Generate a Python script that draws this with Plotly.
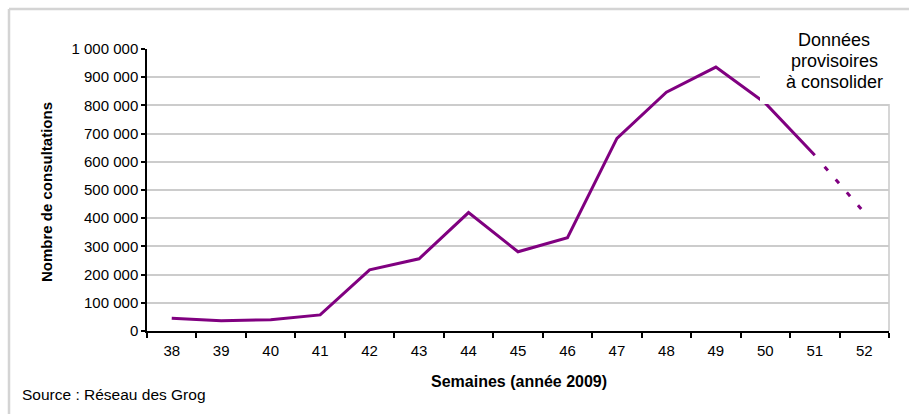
import plotly.graph_objects as go

# Weekly GP consultations for influenza-like illness, autumn 2009
semaines = ["38", "39", "40", "41", "42", "43", "44", "45", "46", "47", "48", "49", "50", "51", "52"]
consultations = [45000, 36000, 40000, 57000, 217000, 256000, 420000, 281000, 331000,
                 683000, 847000, 936000, 808000, 623000, 420000]
# last week is provisional: drawn dotted from week 51
n_consolide = 14

y_ticks = [0, 100000, 200000, 300000, 400000, 500000, 600000, 700000, 800000, 900000, 1000000]
y_tick_labels = ["0", "100 000", "200 000", "300 000", "400 000", "500 000",
                 "600 000", "700 000", "800 000", "900 000", "1 000 000"]

note_lines = ["Données", "provisoires", "à consolider"]

VIOLET = "#800080"
FONT = "Liberation Sans, Arial, sans-serif"

fig = go.Figure()
fig.add_trace(go.Scatter(
    x=semaines[:n_consolide], y=consultations[:n_consolide],
    mode="lines", line=dict(color=VIOLET, width=3), hoverinfo="skip", showlegend=False,
))
# four short dashes, starting after a gap at week 51
fig.add_trace(go.Scatter(
    x=semaines[n_consolide - 1:], y=consultations[n_consolide - 1:],
    mode="lines",
    line=dict(color=VIOLET, width=3, dash="0px,15px,5px,12px,5px,12px,5px,12px,5px,60px"),
    hoverinfo="skip", showlegend=False,
))

# plot area occupies x 147..889 px, y 49..331 px of a 909x414 page
L, R, T, B = 147, 889, 49, 331
W, H = R - L, B - T


def px(x):
    return (x - L) / W


def py(y):
    return (B - y) / H


shapes = [
    # outer chart frame (only top/left edges fall inside the page)
    dict(type="line", xref="paper", yref="paper", x0=px(9), x1=px(930), y0=py(9), y1=py(9),
         line=dict(color="#d4d4d4", width=2.5), layer="above"),
    dict(type="line", xref="paper", yref="paper", x0=px(9), x1=px(9), y0=py(9), y1=py(430),
         line=dict(color="#d4d4d4", width=2.5), layer="above"),
    # right edge of the plot area
    dict(type="line", xref="paper", yref="paper", x0=1, x1=1, y0=0, y1=1,
         line=dict(color="#c8c8c8", width=1.5), layer="below"),
    # white text box for the provisional-data note
    dict(type="rect", xref="paper", yref="paper", x0=px(760), x1=px(915), y0=py(104), y1=py(14),
         fillcolor="white", line=dict(width=0), layer="above"),
]

annotations = [
    dict(text=line, xref="paper", yref="paper",
         x=px(834), y=py(y), xanchor="center", yanchor="middle", showarrow=False,
         font=dict(family=FONT, size=18, color="#000000"))
    for line, y in zip(note_lines, [40, 61, 82])
]
annotations += [
    dict(text="<b>Nombre de consultations</b>", xref="paper", yref="paper",
         x=px(46), y=py(192), xanchor="center", yanchor="middle", textangle=-90, showarrow=False,
         font=dict(family=FONT, size=15, color="#000000")),
    dict(text="<b>Semaines (année 2009)</b>", xref="paper", yref="paper",
         x=px(519), y=py(381), xanchor="center", yanchor="middle", showarrow=False,
         font=dict(family=FONT, size=16, color="#000000")),
    dict(text="Source : Réseau des Grog", xref="paper", yref="paper",
         x=px(20), y=py(394), xanchor="left", yanchor="middle", showarrow=False,
         font=dict(family=FONT, size=15.5, color="#000000")),
]

fig.update_layout(
    width=909, height=414,
    margin=dict(l=L, r=909 - R, t=T, b=414 - B),
    paper_bgcolor="white", plot_bgcolor="white",
    font=dict(family=FONT, size=15, color="#000000"),
    shapes=shapes, annotations=annotations,
    xaxis=dict(
        type="category", categoryorder="array", categoryarray=semaines,
        tickson="boundaries", ticks="outside", ticklen=5, tickwidth=1.5, tickcolor="#000000",
        showline=True, linecolor="#000000", linewidth=1.5, showgrid=False,
        tickfont=dict(size=15), ticklabelstandoff=5,
        range=[-0.5, len(semaines) - 0.5], fixedrange=True,
    ),
    yaxis=dict(
        range=[0, 1000000], tickvals=y_ticks, ticktext=y_tick_labels,
        ticks="outside", ticklen=4, tickwidth=1.5, tickcolor="#000000",
        showline=True, linecolor="#000000", linewidth=1.5,
        showgrid=True, gridcolor="#cccccc", gridwidth=1.5, zeroline=False,
        tickfont=dict(size=15), fixedrange=True,
    ),
)

fig.write_html("out.html")
